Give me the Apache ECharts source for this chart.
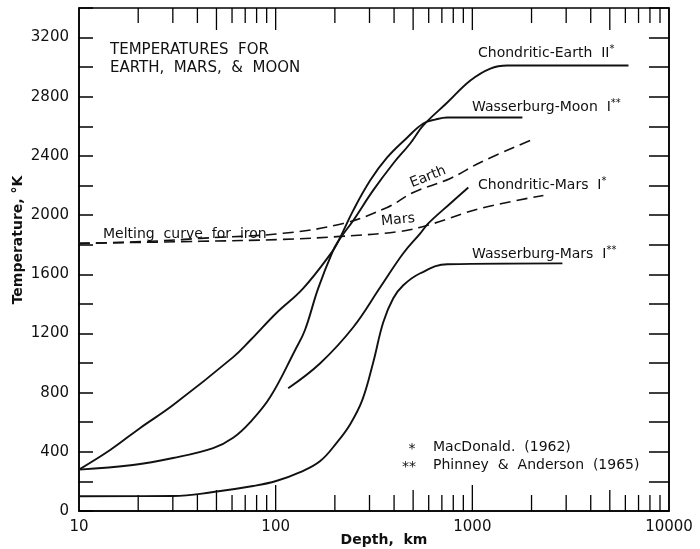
<!DOCTYPE html>
<html>
<head>
<meta charset="utf-8">
<script src="https://cdn.jsdelivr.net/npm/echarts/dist/echarts.min.js"></script>
<style>
html,body{margin:0;padding:0;background:#fff;}
#chart{width:700px;height:549px;}
</style>
</head>
<body>
<div id="chart"></div>
<script>
// ---- data (depth km, temperature K) ----
const depthTicks = [20,30,40,50,60,70,80,90,100,200,300,400,500,600,700,800,900,1000,2000,3000,4000,5000,6000,7000,8000,9000];
const yTickLabels = [0,400,800,1200,1600,2000,2400,2800,3200];

const chondriticEarthII = [[10,280],[14.4,412],[20.4,560],[30.1,716],[60.8,1040],[74.3,1154],[100.6,1337],[138,1505],[196,1762],[213,1843],[248,1964],[313,2167],[396,2349],[483,2484],[563,2606],[746,2761],[977,2910],[1235,2991],[1507,3011],[6222,3011]];
const wasserburgMoonI = [[10,280],[18.8,311],[30.1,358],[48.1,425],[60.8,495],[74.3,601],[93.8,770],[125.5,1087],[140.8,1222],[164.5,1505],[196,1762],[213,1850],[248,2032],[302.7,2235],[369,2390],[467,2525],[563,2619],[648,2646],[746,2660],[1797,2660]];
const chondriticMarsI = [[115.8,830],[168.5,999],[248,1242],[340.2,1512],[445.6,1742],[543.8,1877],[597,1944],[772.7,2079],[954,2187]];
const wasserburgMarsI = [[10,100],[30.1,101],[48.1,128],[76.8,169],[100.6,203],[133.3,263],[168.5,338],[205.6,466],[239.4,587],[275.6,749],[313.5,1006],[352.4,1276],[396.3,1438],[445.6,1526],[543.8,1607],[746,1668],[2871,1674]];
const meltEarth = [[10,1809],[23,1823],[41.3,1843],[109.2,1877],[220.6,1944],[369,2052],[500.8,2153],[772.7,2248],[1098,2356],[1973,2505]];
const meltMars = [[10,1809],[41.3,1823],[109.2,1836],[213,1856],[430,1890],[611,1937],[1098,2045],[2298,2133]];

const FONT = 'DejaVu Sans';
const INK = '#111';

function curve(name, data, dashed) {
  return {
    name: name, type: 'line', data: data, showSymbol: false, symbol: 'none',
    smooth: 0.4, silent: true, z: 4,
    lineStyle: { color: INK, width: dashed ? 1.6 : 1.9, type: dashed ? [11, 6] : 'solid' }
  };
}

function txt(text, x, y, opts) {
  return Object.assign({
    type: 'text', x: x, y: y, silent: true, z: 10,
    style: Object.assign({ text: text, fill: INK, font: '14px "' + FONT + '"', textVerticalAlign: 'middle' }, (opts && opts.style) || {})
  }, (opts && opts.extra) || {});
}

const supRich = { s: { fontSize: 10, fontFamily: FONT, fill: INK, color: INK, verticalAlign: 'top', padding: [0, 0, 8, 0] } };

const chart = echarts.init(document.getElementById('chart'), null, { renderer: 'canvas' });
chart.setOption({
  backgroundColor: '#fff',
  animation: false,
  grid: { left: 79, right: 31, top: 8, bottom: 38, show: true, borderColor: '#000', borderWidth: 1.5, backgroundColor: 'transparent' },
  xAxis: {
    type: 'log', logBase: 10, min: 10, max: 10000,
    axisLine: { show: true, lineStyle: { color: '#000', width: 1.5 } },
    axisTick: { show: false }, minorTick: { show: false }, splitLine: { show: false },
    axisLabel: { color: INK, fontSize: 15, fontFamily: FONT, margin: 9, formatter: function (v) { return String(Math.round(v)); } }
  },
  yAxis: [{
    type: 'value', min: 0, max: 3400, interval: 200,
    axisLine: { show: true, lineStyle: { color: '#000', width: 1.5 } },
    axisTick: { show: true, inside: true, length: 14, lineStyle: { color: '#000', width: 1.5 } },
    splitLine: { show: false },
    axisLabel: { color: INK, fontSize: 15, fontFamily: FONT, margin: 10,
      formatter: function (v) { return yTickLabels.indexOf(v) >= 0 ? String(v) : ''; } }
  }, {
    type: 'value', position: 'right', min: 0, max: 3400, interval: 200,
    axisLine: { show: true, lineStyle: { color: '#000', width: 1.5 } },
    axisTick: { show: true, inside: true, length: 20, lineStyle: { color: '#000', width: 1.5 } },
    axisLabel: { show: false }, splitLine: { show: false }
  }],
  series: [
    curve('Chondritic-Earth II', chondriticEarthII, false),
    curve('Wasserburg-Moon I', wasserburgMoonI, false),
    curve('Chondritic-Mars I', chondriticMarsI, false),
    curve('Wasserburg-Mars I', wasserburgMarsI, false),
    curve('Melting Earth', meltEarth, true),
    curve('Melting Mars', meltMars, true),
    {
      type: 'custom', silent: true, clip: false, z: 3,
      data: depthTicks.map(function (v) { return [v, 0]; }),
      renderItem: function (params, api) {
        const v = api.value(0);
        const b = api.coord([v, 0]);
        const t = api.coord([v, 3400]);
        const m = Math.round(v / Math.pow(10, Math.floor(Math.log10(v) + 1e-9)));
        const lb = m === 1 ? 26 : (m === 5 ? 21 : 16);
        const lt = (m === 1 || m === 5) ? 22 : 15;
        return { type: 'group', children: [
          { type: 'line', shape: { x1: b[0], y1: b[1], x2: b[0], y2: b[1] - lb }, style: { stroke: '#000', lineWidth: 1.3 } },
          { type: 'line', shape: { x1: t[0], y1: t[1], x2: t[0], y2: t[1] + lt }, style: { stroke: '#000', lineWidth: 1.3 } }
        ] };
      }
    }
  ],
  graphic: [
    txt('TEMPERATURES  FOR', 110, 50, { style: { font: '15px "' + FONT + '"' } }),
    txt('EARTH,  MARS,  &  MOON', 110, 68, { style: { font: '15px "' + FONT + '"' } }),
    txt('Chondritic-Earth  II{s|*}', 478, 53, { style: { rich: supRich } }),
    txt('Wasserburg-Moon  I{s|**}', 472, 107, { style: { rich: supRich } }),
    txt('Chondritic-Mars  I{s|*}', 478, 185, { style: { rich: supRich } }),
    txt('Wasserburg-Mars  I{s|**}', 472, 254, { style: { rich: supRich } }),
    txt('Melting  curve  for  iron', 103, 234, {}),
    txt('Earth', 428, 177, { style: { textAlign: 'center' }, extra: { rotation: 0.38 } }),
    txt('Mars', 398, 220, { style: { textAlign: 'center' }, extra: { rotation: 0.1 } }),
    txt('*', 412, 449, { style: { textAlign: 'center' } }),
    txt('MacDonald.  (1962)', 433, 447, {}),
    txt('**', 409, 467, { style: { textAlign: 'center' } }),
    txt('Phinney  &  Anderson  (1965)', 433, 465, {}),
    txt('Temperature, °K', 18, 240, { style: { textAlign: 'center', font: 'bold 14px "' + FONT + '"' }, extra: { rotation: Math.PI / 2 } }),
    txt('Depth,  km', 384, 540, { style: { textAlign: 'center', font: 'bold 14px "' + FONT + '"' } })
  ]
});
</script>
</body>
</html>
